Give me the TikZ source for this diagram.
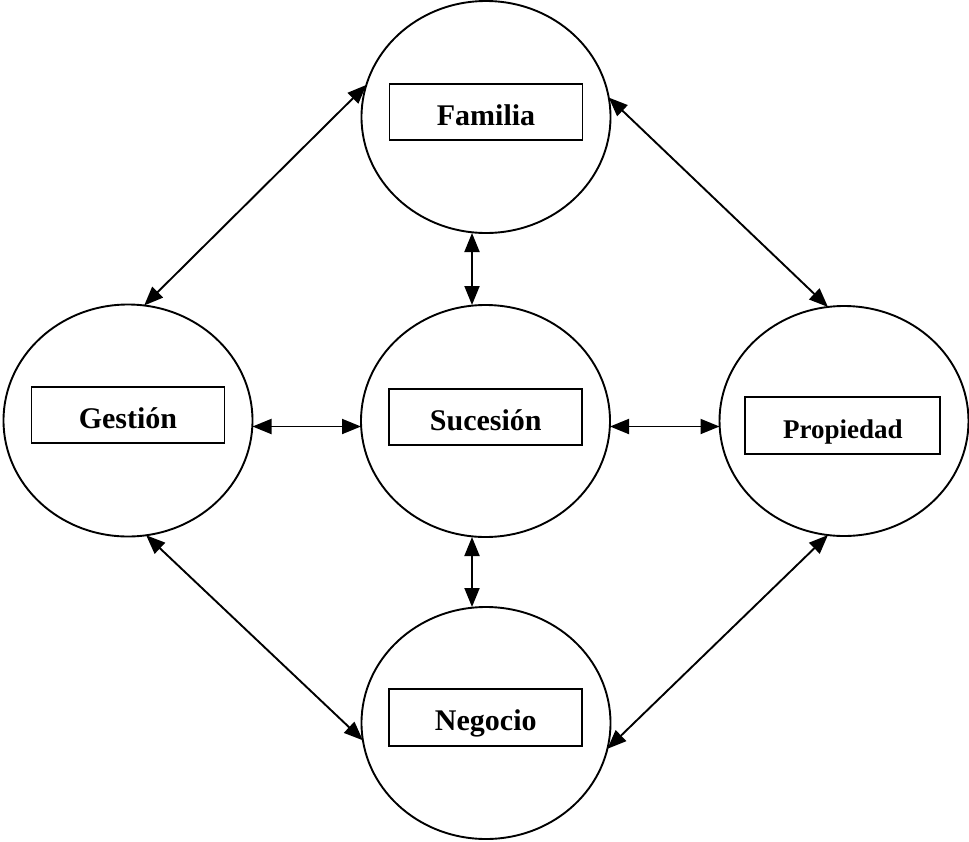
\documentclass[tikz,border=0pt]{standalone}
\usepackage{fontspec}
\setmainfont{Liberation Serif}
\usetikzlibrary{shapes.geometric,arrows.meta}

\tikzset{
  ring/.style={draw, ellipse, line width=1.9pt, outer sep=0pt, inner sep=0pt,
               minimum width=249pt, minimum height=232pt},
  label box/.style={draw, rectangle, line width=1.9pt, inner sep=0pt, outer sep=0pt,
               minimum width=193pt, minimum height=56pt,
               text height=26pt, text depth=0pt,
               font=\fontsize{30}{36}\selectfont\bfseries},
  link/.style={line width=1.9pt, {Triangle[length=19pt,width=15pt]}-{Triangle[length=19pt,width=15pt]}}
}

\begin{document}
\begin{tikzpicture}[x=1pt, y=-1pt]
  \useasboundingbox (0,0) rectangle (969,841);

  % the five areas
  \node[ring] (fam) at (486,117) {};
  \node[ring] (ges) at (128,420.5) {};
  \node[ring] (suc) at (485.5,421) {};
  \node[ring, minimum height=230pt] (pro) at (844,421) {};
  \node[ring] (neg) at (486,723) {};

  % their labels
  \node[label box] (famb) at (486,112) {Familia};
  \node[label box] (gesb) at (128,415.3) {Gestión};
  \node[label box] (sucb) at (485.8,417.3) {Sucesión};
  \node[label box, minimum width=195pt, minimum height=57pt,
        font=\fontsize{27}{32}\selectfont\bfseries] (prob) at (842.8,425.3) {Propiedad};
  \node[label box, minimum height=57pt] (negb) at (485.8,717.5) {Negocio};

  % guides for the straight vertical and horizontal links
  \coordinate (vx) at (472,0);
  \coordinate (hy) at (0,426.5);

  % links through the centre
  \draw[link] (fam.south -| vx) -- (suc.north -| vx);
  \draw[link] (suc.south -| vx) -- (neg.north -| vx);
  \draw[link] (ges.east |- hy) -- (suc.west |- hy);
  \draw[link] (suc.east |- hy) -- (pro.west |- hy);

  % links round the outside
  \draw[link] (ges.82.6) -- (fam.165.5);
  \draw[link] (fam.9.2) -- (pro.98.3);
  \draw[link] (ges.-81.7) -- (neg.188.5);
  \draw[link] (pro.262) -- (neg.348.2);
\end{tikzpicture}
\end{document}
